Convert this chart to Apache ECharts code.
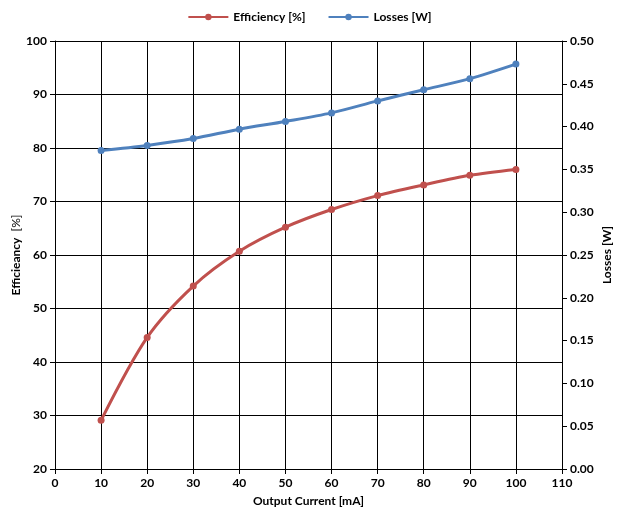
<!DOCTYPE html>
<html>
<head>
<meta charset="utf-8">
<script src="https://cdn.jsdelivr.net/npm/echarts@6/dist/echarts.min.js"></script>
<style>html,body{margin:0;padding:0;background:#fff}#c{width:619px;height:515px}</style>
</head>
<body>
<div id="c"></div>
<script>
const current = [10, 20, 30, 40, 50, 60, 70, 80, 90, 100];
const efficiency = [29.1, 44.6, 54.2, 60.7, 65.2, 68.5, 71.1, 73.1, 74.9, 76.0];
const losses = [0.372, 0.378, 0.386, 0.397, 0.406, 0.416, 0.430, 0.443, 0.456, 0.473];

const FONT = 'Lato';
const chart = echarts.init(document.getElementById('c'));
const axisCommon = {
  axisLine: {show: true, lineStyle: {color: '#000', width: 1}},
  axisTick: {show: true, length: 5, lineStyle: {color: '#000'}},
  axisLabel: {color: '#000', fontFamily: FONT, fontWeight: 'bold', fontSize: 12},
  nameMoveOverlap: false
};
chart.setOption({
  animation: false,
  textStyle: {fontFamily: FONT},
  legend: {
    top: 6, left: 'center', itemGap: 22, itemWidth: 40, itemHeight: 8,
    textStyle: {fontFamily: FONT, fontWeight: 'bold', fontSize: 12, color: '#000'},
    data: ['Efficiency [%]', 'Losses [W]']
  },
  grid: {left: 55, right: 57, top: 41, bottom: 46, containLabel: false, outerBoundsMode: 'none'},
  xAxis: Object.assign({}, axisCommon, {
    type: 'value', min: 0, max: 110, interval: 10,
    name: 'Output Current [mA]', nameLocation: 'middle', nameGap: 26,
    nameTextStyle: {fontFamily: FONT, fontWeight: 'bold', fontSize: 12, color: '#000'},
    splitLine: {show: true, lineStyle: {color: '#000', width: 1}},
    axisLabel: Object.assign({}, axisCommon.axisLabel, {margin: 8})
  }),
  yAxis: [
    Object.assign({}, axisCommon, {
      type: 'value', min: 20, max: 100, interval: 10, position: 'left',
      name: '{b|Efficieancy}  {n|[%]}', nameLocation: 'middle', nameGap: 33,
      nameTextStyle: {rich: {
        b: {fontFamily: FONT, fontWeight: 'bold', fontSize: 12, color: '#000'},
        n: {fontFamily: FONT, fontWeight: 'normal', fontSize: 12, color: '#000'}
      }},
      splitLine: {show: true, lineStyle: {color: '#000', width: 1}},
      axisLabel: Object.assign({}, axisCommon.axisLabel, {margin: 8})
    }),
    Object.assign({}, axisCommon, {
      type: 'value', min: 0, max: 0.5, interval: 0.05, position: 'right',
      name: 'Losses [W]', nameLocation: 'middle', nameGap: 39,
      nameTextStyle: {fontFamily: FONT, fontWeight: 'bold', fontSize: 12, color: '#000'},
      splitLine: {show: false},
      axisLabel: Object.assign({}, axisCommon.axisLabel, {margin: 8, formatter: v => v.toFixed(2)})
    })
  ],
  series: [
    {
      name: 'Efficiency [%]', type: 'line', yAxisIndex: 0, smooth: 0.3,
      data: current.map((x, i) => [x, efficiency[i]]),
      symbol: 'circle', symbolSize: 7,
      lineStyle: {color: '#C0504D', width: 3},
      itemStyle: {color: '#C0504D'}
    },
    {
      name: 'Losses [W]', type: 'line', yAxisIndex: 1, smooth: 0.3,
      data: current.map((x, i) => [x, losses[i]]),
      symbol: 'circle', symbolSize: 7,
      lineStyle: {color: '#4F81BD', width: 3},
      itemStyle: {color: '#4F81BD'}
    }
  ]
});
</script>
</body>
</html>
